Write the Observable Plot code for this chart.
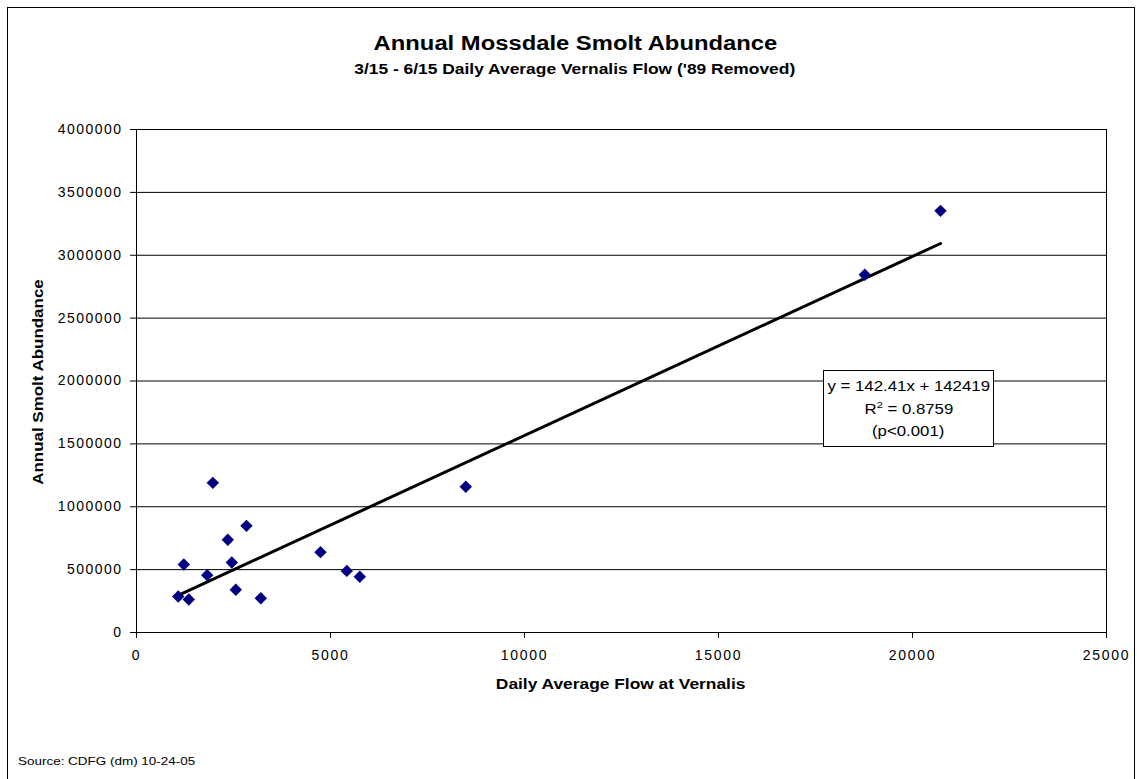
<!DOCTYPE html>
<html>
<head>
<meta charset="utf-8">
<script src="https://cdn.jsdelivr.net/npm/d3@7"></script>
<script src="https://cdn.jsdelivr.net/npm/@observablehq/plot@0.6"></script>
<style>
  html, body { margin: 0; padding: 0; background: #fff; }
  body { width: 1137px; height: 779px; overflow: hidden; font-family: "Liberation Sans", Arial, sans-serif; color: #000; }
  #wrap { position: relative; width: 1137px; height: 779px; }
  #frame { position: absolute; left: 7px; top: 7px; width: 1128px; height: 800px; border: 1px solid #000; box-sizing: border-box; }
  .sx { display: inline-block; transform: scaleX(1.2); white-space: nowrap; }
  #title { position: absolute; left: 0; width: 1151px; top: 31.5px; text-align: center; font-weight: bold; font-size: 19.5px; }
  #subtitle { position: absolute; left: 0; width: 1150px; top: 61px; text-align: center; font-weight: bold; font-size: 14.5px; }
  #chart { position: absolute; left: 0; top: 100px; }
  #ylabel { position: absolute; left: 37.5px; top: 381.5px; transform: translate(-50%, -50%) rotate(-90deg) scaleX(1.21); white-space: nowrap; font-weight: bold; font-size: 14px; }
  #xlabel { position: absolute; left: 0; width: 1242px; top: 676px; text-align: center; font-weight: bold; font-size: 14px; }
  #eq { position: absolute; left: 823px; top: 370px; width: 171px; height: 77px; box-sizing: border-box; border: 1px solid #000; background: #fff; text-align: center; font-size: 14px; line-height: 22.5px; padding-top: 4px; }
  #eq sup { font-size: 9px; vertical-align: 6px; line-height: 0; }
  #source { position: absolute; left: 18px; top: 755px; font-size: 11.5px; transform-origin: left center; }
</style>
</head>
<body>
<div id="wrap">
  <div id="frame"></div>
  <div id="title"><span class="sx" style="transform: scaleX(1.22)">Annual Mossdale Smolt Abundance</span></div>
  <div id="subtitle"><span class="sx">3/15 - 6/15 Daily Average Vernalis Flow ('89 Removed)</span></div>
  <div id="chart"></div>
  <div id="ylabel">Annual Smolt Abundance</div>
  <div id="xlabel"><span class="sx" style="transform: scaleX(1.24)">Daily Average Flow at Vernalis</span></div>
  <div id="eq"><span class="sx">y = 142.41x + 142419</span><br><span class="sx">R<sup>2</sup> = 0.8759</span><br><span class="sx">(p&lt;0.001)</span></div>
  <div id="source"><span class="sx" style="transform: scaleX(1.17); transform-origin: left center;">Source: CDFG (dm) 10-24-05</span></div>
</div>
<script>
// Data
const flow = [1075, 1348, 1220, 1822, 1967, 2353, 2456, 2559, 2835, 3204, 4742, 5420, 5755, 8487, 18771, 20722];
const abundance = [286000, 262000, 541000, 456000, 1190000, 737000, 557000, 340000, 848000, 273000, 639000, 490000, 443000, 1159000, 2845000, 3353000];
const xTicks = [0, 5000, 10000, 15000, 20000, 25000];
const yTicks = [0, 500000, 1000000, 1500000, 2000000, 2500000, 3000000, 3500000, 4000000];
const slope = 142.41;
const intercept = 142419;

const points = flow.map((f, i) => ({flow: f, abundance: abundance[i]}));
const xMin = d3.min(flow), xMax = d3.max(flow);
const trend = [xMin, xMax].map(x => ({flow: x, abundance: slope * x + intercept}));

const chart = Plot.plot({
  width: 1137,
  height: 600,
  marginLeft: 136,
  marginRight: 31,
  marginTop: 29,
  marginBottom: 68,
  style: {fontFamily: "'Liberation Sans', Arial, sans-serif", fontSize: "14px", color: "#000", background: "transparent"},
  x: {domain: [0, 25000]},
  y: {domain: [0, 4000000]},
  marks: [
    Plot.gridY(yTicks, {stroke: "#000", strokeOpacity: 1}),
    Plot.frame({stroke: "#000"}),
    Plot.axisY(yTicks, {tickSize: 6, tickPadding: 8, tickFormat: d => String(d), label: null, stroke: "#000"}),
    Plot.axisX(xTicks, {tickSize: 6, tickPadding: 12, tickFormat: d => String(d), label: null, stroke: "#000"}),
    Plot.line(trend, {x: "flow", y: "abundance", stroke: "#000", strokeWidth: 3}),
    Plot.dot(points, {x: "flow", y: "abundance", symbol: "diamond2", r: 5.6, fill: "#000080", stroke: "none"})
  ]
});
document.getElementById("chart").appendChild(chart);
// widen tick labels slightly to match the reference's stretched type
d3.select(chart).selectAll('g[aria-label="y-axis tick label"] text').style("letter-spacing", "1.45px");
d3.select(chart).selectAll('g[aria-label="x-axis tick label"] text').style("letter-spacing", "1.7px");
</script>
</body>
</html>
